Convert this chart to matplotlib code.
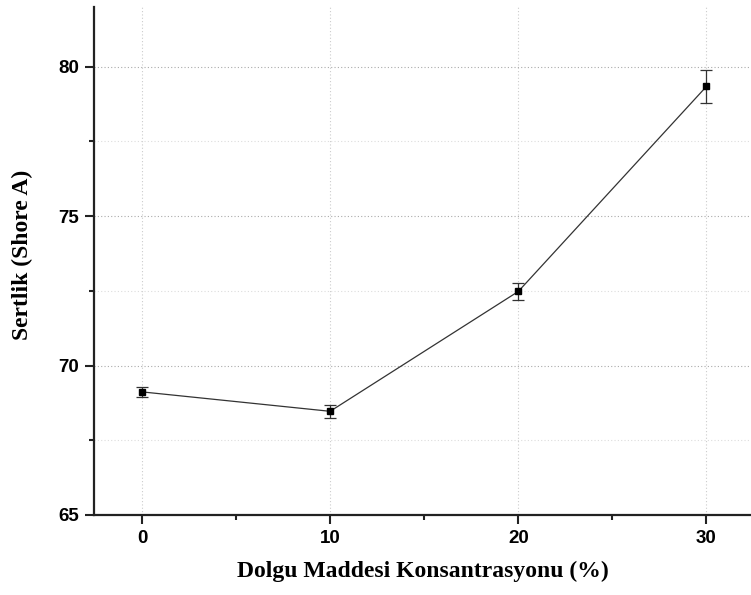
import matplotlib
matplotlib.use("Agg")
import matplotlib.pyplot as plt
from matplotlib.ticker import MultipleLocator

conc = [0, 10, 20, 30]
hardness = [69.12, 68.47, 72.48, 79.34]
err = [0.18, 0.22, 0.29, 0.56]
xlabel = "Dolgu Maddesi Konsantrasyonu (%)"
ylabel = "Sertlik (Shore A)"

fig = plt.figure(figsize=(7.51, 5.95), dpi=100)
ax = fig.add_axes([94/751, 80/595, (751-94)/751 + 0.002, (515-7)/595])

ax.errorbar(conc, hardness, yerr=err, color="#333333", lw=0.9, marker="s",
            ms=4.5, mfc="black", mec="black", ecolor="#333333", elinewidth=0.9,
            capsize=4, capthick=0.9, zorder=3)

ax.set_xlim(-2.55, 32.45)
ax.set_ylim(65, 82)
ax.xaxis.set_major_locator(MultipleLocator(10))
ax.xaxis.set_minor_locator(MultipleLocator(5))
ax.yaxis.set_major_locator(MultipleLocator(5))
ax.yaxis.set_minor_locator(MultipleLocator(2.5))

ax.grid(which="major", axis="y", ls=(0, (1, 2)), color="#aaaaaa", lw=0.8)
ax.grid(which="minor", axis="y", ls=(0, (1, 2)), color="#dddddd", lw=0.8)
ax.grid(which="major", axis="x", ls=(0, (1, 2)), color="#cccccc", lw=0.8)

for s in ["top", "right"]:
    ax.spines[s].set_visible(False)
for s in ["left", "bottom"]:
    ax.spines[s].set_linewidth(1.6)
    ax.spines[s].set_color("#222222")

ax.tick_params(which="major", direction="out", length=6.5, width=1.5, color="#222222",
               labelsize=13.5, pad=4)
ax.tick_params(which="minor", direction="out", length=3.5, width=1.5, color="#222222")
for lab in ax.get_xticklabels() + ax.get_yticklabels():
    lab.set_fontfamily("Liberation Sans")
    lab.set_fontweight("bold")

ax.set_xlabel(xlabel, fontfamily="Liberation Serif", fontweight="bold", fontsize=17, labelpad=10)
ax.set_ylabel(ylabel, fontfamily="Liberation Serif", fontweight="bold", fontsize=17)
ax.yaxis.set_label_coords(-0.092, 0.512)

fig.savefig("out.png", dpi=100)
